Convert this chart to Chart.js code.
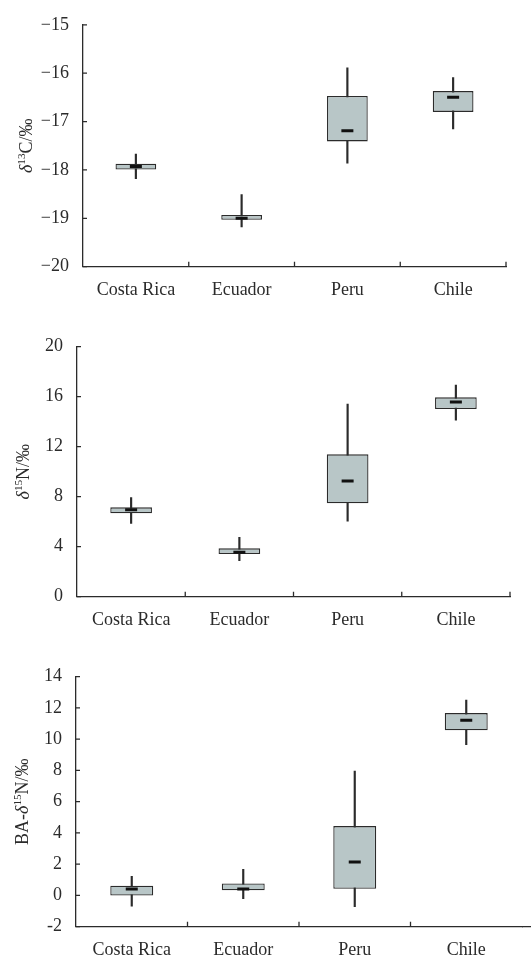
<!DOCTYPE html>
<html lang="en">
<head>
  <meta charset="UTF-8">
  <title>Isotope box plots</title>
  <script src="https://cdn.jsdelivr.net/npm/chart.js@4"></script>
  <style>
    body { margin: 0; background: #fff; }
    .panel { position: absolute; left: 0; width: 531px; }
  </style>
</head>
<body>
  <div class="panel" style="top:0;height:320px"><canvas id="c13Chart"></canvas></div>
  <div class="panel" style="top:320px;height:320px"><canvas id="n15Chart"></canvas></div>
  <div class="panel" style="top:640px;height:318px"><canvas id="baChart"></canvas></div>

  <script>
    const countries = ['Costa Rica', 'Ecuador', 'Peru', 'Chile'];

    // δ13C
    const c13Min    = [-18.18, -19.18, -17.86, -17.15];
    const c13Q1     = [-17.99, -19.03, -17.41, -16.80];
    const c13Median = [-17.93, -19.00, -17.19, -16.50];
    const c13Q3     = [-17.87, -18.93, -16.47, -16.37];
    const c13Max    = [-17.67, -18.51, -15.89, -16.09];

    // δ15N
    const n15Min    = [5.87, 2.88, 6.05, 14.13];
    const n15Q1     = [6.67, 3.41, 7.47, 15.01];
    const n15Median = [6.96, 3.55, 9.25, 15.57];
    const n15Q3     = [7.15, 3.87, 11.39, 15.95];
    const n15Max    = [7.92, 4.75, 15.41, 16.93];

    // BA-δ15N
    const baMin    = [-0.68, -0.21, -0.72, 9.65];
    const baQ1     = [0.00, 0.33, 0.43, 10.57];
    const baMedian = [0.41, 0.41, 2.14, 11.21];
    const baQ3     = [0.62, 0.77, 4.44, 11.67];
    const baMax    = [1.22, 1.67, 7.96, 12.51];

    const FONT = '"Liberation Serif", "Times New Roman", serif';
    const INK = '#2b2b2b';

    // inward tick marks + rotated y title with italic delta and superscript
    const axisMarks = {
      id: 'axisMarks',
      afterDraw(chart, args, opts) {
        const { ctx, chartArea: a, scales: { x, y } } = chart;
        ctx.save();
        ctx.strokeStyle = INK;
        ctx.lineWidth = 1.3;
        ctx.beginPath();
        y.ticks.forEach(t => {
          const py = y.getPixelForValue(t.value);
          ctx.moveTo(a.left, py);
          ctx.lineTo(a.left + 4, py);
        });
        const half = (x.getPixelForValue(1) - x.getPixelForValue(0)) / 2;
        x.ticks.forEach((t, i) => {
          if (opts.skipLast && i === x.ticks.length - 1) return;
          const px = x.getPixelForValue(i) + half;
          ctx.moveTo(px, a.bottom);
          ctx.lineTo(px, a.bottom - 5);
        });
        if (opts.extendTo) {
          ctx.moveTo(a.right, a.bottom);
          ctx.lineTo(opts.extendTo, a.bottom);
        }
        ctx.stroke();

        const size = 18;
        const fontFor = p => (p.italic ? 'italic ' : '') + (p.sup ? size * 0.62 : size) + 'px ' + FONT;
        let total = 0;
        opts.title.forEach(p => { ctx.font = fontFor(p); p.w = ctx.measureText(p.t).width; total += p.w; });
        ctx.translate(opts.titleX, (a.top + a.bottom) / 2);
        ctx.rotate(-Math.PI / 2);
        ctx.fillStyle = INK;
        ctx.textBaseline = 'alphabetic';
        let cx = -total / 2;
        const base = size * 0.33;
        opts.title.forEach(p => {
          ctx.font = fontFor(p);
          ctx.fillText(p.t, cx, p.sup ? base - size * 0.38 : base);
          cx += p.w;
        });
        ctx.restore();
      }
    };

    function makeChart(id, cfg) {
      const boxes = cfg.q1.map((q, i) => [q, cfg.q3[i]]);
      const whiskers = cfg.min.map((m, i) => [m, cfg.max[i]]);
      new Chart(document.getElementById(id), {
        type: 'bar',
        data: {
          labels: countries,
          datasets: [
            {
              type: 'line',
              data: cfg.median,
              showLine: false,
              pointStyle: 'line',
              pointRadius: 6,
              pointBorderWidth: 3,
              pointBorderColor: '#111',
              order: 0
            },
            {
              data: boxes,
              grouped: false,
              backgroundColor: '#b8c6c7',
              borderColor: INK,
              borderWidth: 1.3,
              borderSkipped: false,
              categoryPercentage: 1,
              barPercentage: 0.385,
              order: 1
            },
            {
              data: whiskers,
              grouped: false,
              backgroundColor: INK,
              barThickness: 1.5,
              order: 2
            }
          ]
        },
        options: {
          responsive: true,
          maintainAspectRatio: false,
          animation: false,
          layout: { padding: { top: cfg.top, right: cfg.right, left: 0, bottom: 0 } },
          plugins: {
            legend: { display: false },
            tooltip: { enabled: false },
            axisMarks: { title: cfg.title, titleX: cfg.titleX, skipLast: cfg.skipLast, extendTo: cfg.extendTo }
          },
          scales: {
            x: {
              grid: { display: false, drawTicks: false },
              border: { color: INK, width: 1.3 },
              ticks: { color: INK, font: { family: FONT, size: 18 }, padding: 13 },
              afterFit: s => { s.height = cfg.bottom; }
            },
            y: {
              min: cfg.yMin,
              max: cfg.yMax,
              grid: { display: false, drawTicks: false },
              border: { color: INK, width: 1.3 },
              ticks: {
                stepSize: cfg.step,
                color: INK,
                font: { family: FONT, size: 18 },
                padding: 14,
                callback: v => cfg.minusSign ? String(v).replace('-', '\u2212') : String(v)
              },
              afterFit: s => { s.width = cfg.left; }
            }
          }
        },
        plugins: [axisMarks]
      });
    }

    makeChart('c13Chart', {
      min: c13Min, q1: c13Q1, median: c13Median, q3: c13Q3, max: c13Max,
      yMin: -20, yMax: -15, step: 1, minusSign: true,
      top: 16.7, bottom: 53.3, left: 83, right: 25, titleX: 26,
      title: [{ t: 'δ', italic: true }, { t: '13', sup: true }, { t: 'C/‰' }]
    });

    makeChart('n15Chart', {
      min: n15Min, q1: n15Q1, median: n15Median, q3: n15Q3, max: n15Max,
      yMin: 0, yMax: 20, step: 4,
      top: 26.7, bottom: 43.3, left: 77, right: 21, titleX: 23,
      title: [{ t: 'δ', italic: true }, { t: '15', sup: true }, { t: 'N/‰' }]
    });

    makeChart('baChart', {
      min: baMin, q1: baQ1, median: baMedian, q3: baQ3, max: baMax,
      yMin: -2, yMax: 14, step: 2,
      top: 36.7, bottom: 31.3, left: 76, right: 7, titleX: 22,
      skipLast: true, extendTo: 531,
      title: [{ t: 'BA-' }, { t: 'δ', italic: true }, { t: '15', sup: true }, { t: 'N/‰' }]
    });
  </script>
</body>
</html>
